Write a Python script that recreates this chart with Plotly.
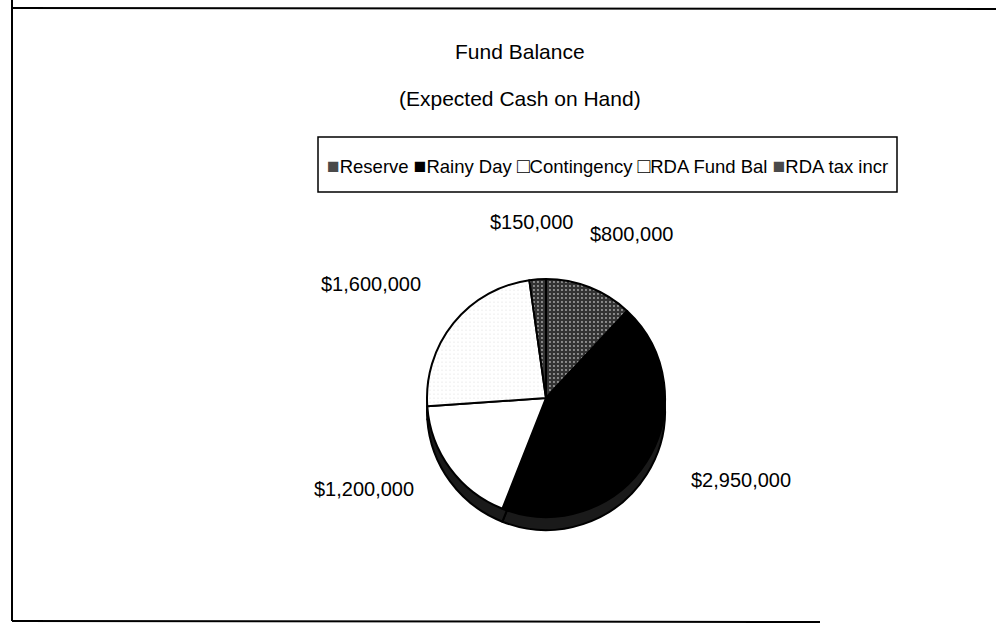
import math
import plotly.graph_objects as go

W, H = 996, 629

categories = ["Reserve", "Rainy Day", "Contingency", "RDA Fund Bal", "RDA tax incr"]
values = [800000, 2950000, 1200000, 1600000, 150000]
value_labels = ["$" + format(v, ",") for v in values]
legend_symbols = ["■", "■", "□", "□", "■"]
legend_symbol_colors = ["#4a4a4a", "#000000", "#000000", "#000000", "#4a4a4a"]

title_line1 = "Fund Balance"
title_line2 = "(Expected Cash on Hand)"

FONT = "Liberation Sans, Arial, sans-serif"

slice_colors = ["#333333", "#000000", "#ffffff", "#ffffff", "#333333"]
pattern_shapes = [".", "", "", ".", "."]
pattern_fg = ["#a8a8a8", "#000000", "#000000", "#666666", "#a8a8a8"]
pattern_solidity = [0.18, 0.2, 0.2, 0.02, 0.18]


def px_x(p):
    return p / W


def px_y(p):
    return 1 - p / H


cx, cy, r, depth = 546, 398, 119, 13

fig = go.Figure()

# side (depth) of the pie, drawn behind
fig.add_trace(go.Pie(
    labels=categories,
    values=values,
    sort=False,
    direction="clockwise",
    rotation=0,
    textinfo="none",
    hoverinfo="skip",
    showlegend=False,
    marker=dict(colors=["#1a1a1a"] * len(values), line=dict(color="#000000", width=2)),
    domain=dict(x=[px_x(cx - r), px_x(cx + r)], y=[px_y(cy + r + depth), px_y(cy - r + depth)]),
))

# top face
fig.add_trace(go.Pie(
    labels=categories,
    values=values,
    sort=False,
    direction="clockwise",
    rotation=0,
    textinfo="none",
    showlegend=False,
    marker=dict(
        colors=slice_colors,
        line=dict(color="#000000", width=2),
        pattern=dict(shape=pattern_shapes, fgcolor=pattern_fg, bgcolor=slice_colors,
                     size=4, solidity=pattern_solidity),
    ),
    domain=dict(x=[px_x(cx - r), px_x(cx + r)], y=[px_y(cy + r), px_y(cy - r)]),
))

# data labels placed at each slice's mid-angle (computed from the values)
annotations = []
total = sum(values)
cum = 0.0
lab_cx, lab_cy, lab_rx, lab_ry = 548, 390, 228, 168
for v, t in zip(values, value_labels):
    mid = (cum + v / 2) / total * 2 * math.pi
    cum += v
    annotations.append(dict(
        text=t, x=px_x(lab_cx + lab_rx * math.sin(mid)), y=px_y(lab_cy - lab_ry * math.cos(mid)),
        xref="paper", yref="paper", showarrow=False, xanchor="center", yanchor="middle",
        font=dict(family=FONT, size=20, color="#000000"),
    ))

# titles
annotations += [
    dict(text=title_line1, x=px_x(520), y=px_y(52), xref="paper", yref="paper",
         showarrow=False, xanchor="center", yanchor="middle",
         font=dict(family=FONT, size=21, color="#000000")),
    dict(text=title_line2, x=px_x(520), y=px_y(98), xref="paper", yref="paper",
         showarrow=False, xanchor="center", yanchor="middle",
         font=dict(family=FONT, size=21, color="#000000")),
]

# legend (compact, boxed) built from the category list
legend_text = " ".join(
    f"<span style='color:{c};font-size:21px'>{s}</span>{name}"
    for s, c, name in zip(legend_symbols, legend_symbol_colors, categories)
)
annotations.append(dict(
    text=legend_text, x=px_x(607), y=px_y(165), xref="paper", yref="paper",
    showarrow=False, xanchor="center", yanchor="middle",
    font=dict(family=FONT, size=18.5, color="#000000"),
))

fig.update_layout(
    width=W, height=H,
    margin=dict(l=0, r=0, t=0, b=0, autoexpand=False),
    paper_bgcolor="#ffffff",
    plot_bgcolor="#ffffff",
    font=dict(family=FONT, size=20, color="#000000"),
    showlegend=False,
    annotations=annotations,
    shapes=[
        dict(type="rect", xref="paper", yref="paper", x0=px_x(318), x1=px_x(897), y0=px_y(137), y1=px_y(192),
             line=dict(color="#000000", width=1.5), fillcolor="rgba(0,0,0,0)", layer="below"),
        dict(type="line", xref="paper", yref="paper", x0=px_x(12), x1=px_x(996), y0=px_y(8), y1=px_y(9),
             line=dict(color="#000000", width=2)),
        dict(type="line", xref="paper", yref="paper", x0=px_x(12), x1=px_x(12), y0=px_y(0), y1=px_y(621),
             line=dict(color="#000000", width=2)),
        dict(type="line", xref="paper", yref="paper", x0=px_x(12), x1=px_x(820), y0=px_y(621), y1=px_y(622),
             line=dict(color="#000000", width=2)),
    ],
)

fig.write_html("out.html")
